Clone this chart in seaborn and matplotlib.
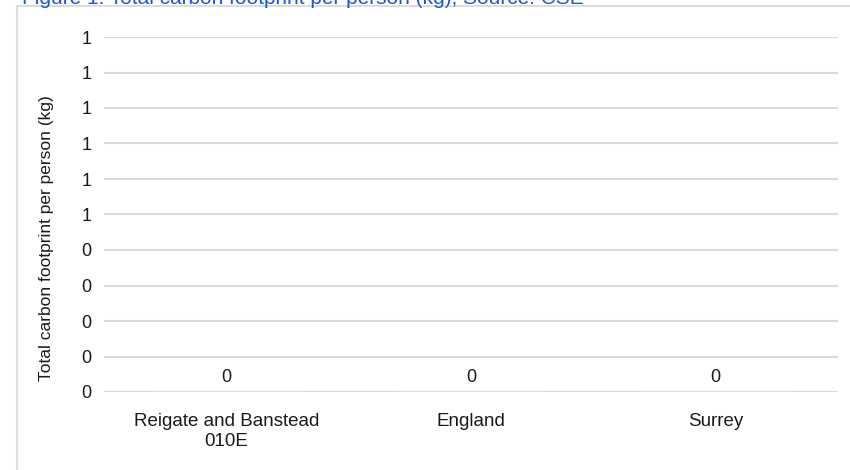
import matplotlib
matplotlib.use("Agg")
import matplotlib.pyplot as plt
import seaborn as sns
import pandas as pd
from matplotlib.ticker import FuncFormatter, MultipleLocator
from matplotlib.patches import Rectangle

categories = ["Reigate and Banstead\n010E", "England", "Surrey"]
values = [0, 0, 0]
title_text = "Figure 1: Total carbon footprint per person (kg), Source: CSE"
y_label = "Total carbon footprint per person (kg)"

sns.set_theme(style="white")
plt.rcParams["font.family"] = ["Liberation Sans", "DejaVu Sans"]

W, H = 850, 470
fig = plt.figure(figsize=(W / 100, H / 100), dpi=100)
ax = fig.add_axes([104 / W, (H - 392) / H, (838 - 104) / W, (392 - 37) / H])

df = pd.DataFrame({"cat": categories, "val": values})
sns.barplot(data=df, x="cat", y="val", ax=ax, color="#4472c4", width=0.6)

ax.set_ylim(0, 1)
ax.yaxis.set_major_locator(MultipleLocator(0.1))
ax.yaxis.set_major_formatter(FuncFormatter(lambda v, p: f"{v:.0f}"))
ax.grid(axis="y", color="#d9d9d9", linewidth=1.5)
ax.set_axisbelow(True)
for s in ax.spines.values():
    s.set_visible(False)
ax.tick_params(axis="y", length=0, pad=9, labelsize=13, labelcolor="#1a1a1a")
ax.tick_params(axis="x", length=0, pad=15, labelsize=13.5, labelcolor="#1a1a1a")
for t in ax.get_xticklabels():
    t.set_linespacing(1.25)
ax.set_xlabel("")
ax.set_ylabel("")
fig.text(47 / W, (H - 238) / H, y_label, rotation=90, ha="center", va="center",
         fontsize=12.5, color="#1a1a1a")

for c in ax.containers:
    ax.bar_label(c, labels=[f"{v:.0f}" for v in values], padding=4, fontsize=13, color="#1a1a1a")

fig.patches.append(Rectangle((17 / W, -0.1), 1.0, (H - 6) / H + 0.1, transform=fig.transFigure,
                             fill=False, edgecolor="#dddddd", linewidth=1.5))
fig.text(22 / W, (H - 4) / H, title_text, color="#1a56db", fontsize=15, va="baseline", ha="left")

fig.savefig("out.png", dpi=100)
